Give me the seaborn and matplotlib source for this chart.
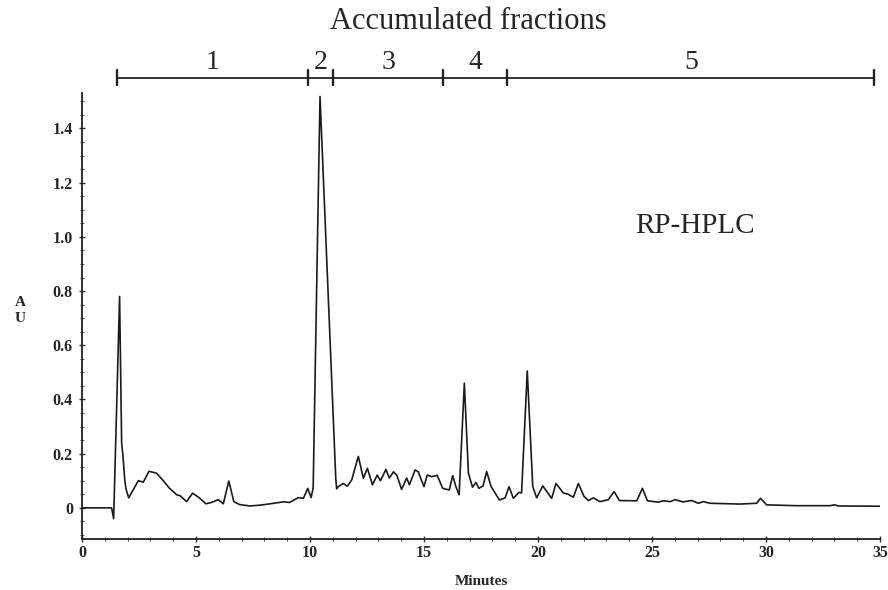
import matplotlib
matplotlib.use("Agg")
import matplotlib.pyplot as plt
import seaborn as sns
import numpy as np
import pandas as pd
from matplotlib.ticker import MultipleLocator

# ---- data ----
minutes = [0.0, 1.30, 1.39, 1.65, 1.74, 1.80, 1.88, 1.93, 2.05, 2.47, 2.69, 2.94, 3.27, 3.57,
           3.83, 4.16, 4.30, 4.59, 4.85, 5.10, 5.44, 5.68, 5.98, 6.20, 6.44, 6.66, 6.92,
           7.37, 7.81, 8.25, 8.83, 9.11, 9.49, 9.71, 9.90, 10.05, 10.14, 10.44, 11.13,
           11.17, 11.24, 11.46, 11.64, 11.83, 12.12, 12.34, 12.52, 12.74, 12.95, 13.09,
           13.33, 13.48, 13.66, 13.81, 14.02, 14.24, 14.36, 14.61, 14.75, 15.00, 15.14,
           15.33, 15.58, 15.82, 16.11, 16.26, 16.40, 16.54, 16.77, 16.95, 17.13, 17.28,
           17.41, 17.59, 17.75, 17.94, 18.31, 18.56, 18.73, 18.92, 19.16, 19.28, 19.53,
           19.77, 19.94, 20.21, 20.60, 20.79, 21.11, 21.33, 21.55, 21.77, 22.02, 22.21,
           22.43, 22.72, 23.08, 23.34, 23.57, 24.33, 24.58, 24.80, 25.27, 25.51, 25.81,
           26.01, 26.37, 26.74, 27.03, 27.25, 27.54, 28.86, 29.59, 29.76, 30.03, 31.34,
           32.80, 32.99, 33.20, 35.0]
absorbance = [0.0, 0.0, -0.04, 0.78, 0.24, 0.19, 0.10, 0.07, 0.037, 0.10, 0.095, 0.135, 0.128, 0.10,
              0.073, 0.048, 0.045, 0.023, 0.054, 0.04, 0.015, 0.02, 0.03, 0.015, 0.099, 0.023, 0.012,
              0.007, 0.01, 0.015, 0.022, 0.02, 0.038, 0.035, 0.072, 0.038, 0.074, 1.518, 0.11,
              0.07, 0.078, 0.09, 0.08, 0.103, 0.19, 0.109, 0.146, 0.085, 0.121, 0.10,
              0.142, 0.11, 0.133, 0.12, 0.068, 0.11, 0.085, 0.14, 0.133, 0.078, 0.121,
              0.115, 0.12, 0.072, 0.066, 0.119, 0.078, 0.048, 0.46, 0.127, 0.076, 0.094,
              0.072, 0.081, 0.134, 0.079, 0.029, 0.037, 0.078, 0.035, 0.057, 0.055, 0.505,
              0.079, 0.037, 0.081, 0.035, 0.09, 0.055, 0.05, 0.039, 0.09, 0.042, 0.027,
              0.037, 0.023, 0.03, 0.06, 0.027, 0.026, 0.072, 0.026, 0.021, 0.026, 0.023,
              0.03, 0.022, 0.027, 0.017, 0.023, 0.017, 0.014, 0.017, 0.035, 0.011, 0.008,
              0.008, 0.011, 0.007, 0.006]

fraction_bounds = [1.55, 9.9, 11.0, 15.85, 18.65, 34.75]
fraction_labels = ["1", "2", "3", "4", "5"]

x_ticks = [0, 5, 10, 15, 20, 25, 30, 35]
y_ticks = [0, 0.2, 0.4, 0.6, 0.8, 1.0, 1.2, 1.4]
y_tick_labels = ["0", "0.2", "0.4", "0.6", "0.8", "1.0", "1.2", "1.4"]

# ---- styling ----
sns.set_style("ticks")
plt.rcParams["font.family"] = ["Liberation Serif", "DejaVu Serif"]

fig = plt.figure(figsize=(8.88, 5.90), dpi=100)
ax = fig.add_axes([0.0923, 0.0864, 0.8987, 0.7556])

df = pd.DataFrame({"Minutes": minutes, "AU": absorbance})
sns.lineplot(data=df, x="Minutes", y="AU", ax=ax, color="#1a1a1a", lw=1.2,
             sort=False, estimator=None)

ax.set_xlim(0, 35)
ax.set_ylim(-0.115, 1.53)
sns.despine(ax=ax, top=True, right=True)
for s in ("left", "bottom"):
    ax.spines[s].set_linewidth(1.3)
    ax.spines[s].set_color("#222222")

ax.set_xticks(x_ticks)
ax.set_xticklabels([str(t) for t in x_ticks], fontsize=11.5, fontweight="bold")
ax.set_yticks(y_ticks)
ax.set_yticklabels(y_tick_labels, fontsize=11.5, fontweight="bold")
ax.xaxis.set_minor_locator(MultipleLocator(1))
ax.yaxis.set_minor_locator(MultipleLocator(0.05))
ax.tick_params(axis="both", which="major", direction="inout", length=5, width=1.0, color="#333333")
ax.tick_params(axis="both", which="minor", direction="inout", length=3, width=0.8, color="#555555")
ax.tick_params(axis="y", pad=4)
ax.tick_params(axis="x", pad=2)

ax.set_xlabel("Minutes", fontsize=11, fontweight="bold", labelpad=10)
ax.set_ylabel("")
fig.text(0.0225, 0.474, "A\nU", fontsize=11, fontweight="bold", ha="center", va="center",
         linespacing=1.25)

# accumulated fractions bar
bar_y = 1.587
ax.plot([fraction_bounds[0], fraction_bounds[-1]], [bar_y, bar_y], color="#222222",
        lw=1.3, clip_on=False)
for b in fraction_bounds:
    ax.plot([b, b], [bar_y - 0.027, bar_y + 0.027], color="#222222", lw=1.7, clip_on=False)
for i, lab in enumerate(fraction_labels):
    mid = (fraction_bounds[i] + fraction_bounds[i + 1]) / 2
    ax.text(mid, bar_y + 0.012, lab, fontsize=20, ha="center", va="bottom", clip_on=False)

fig.text(0.527, 0.963, "Accumulated fractions", fontsize=22, ha="center", va="center")
ax.text(26.9, 1.04, "RP-HPLC", fontsize=21, ha="center", va="center")

fig.savefig("out.png", dpi=100, facecolor="white")
